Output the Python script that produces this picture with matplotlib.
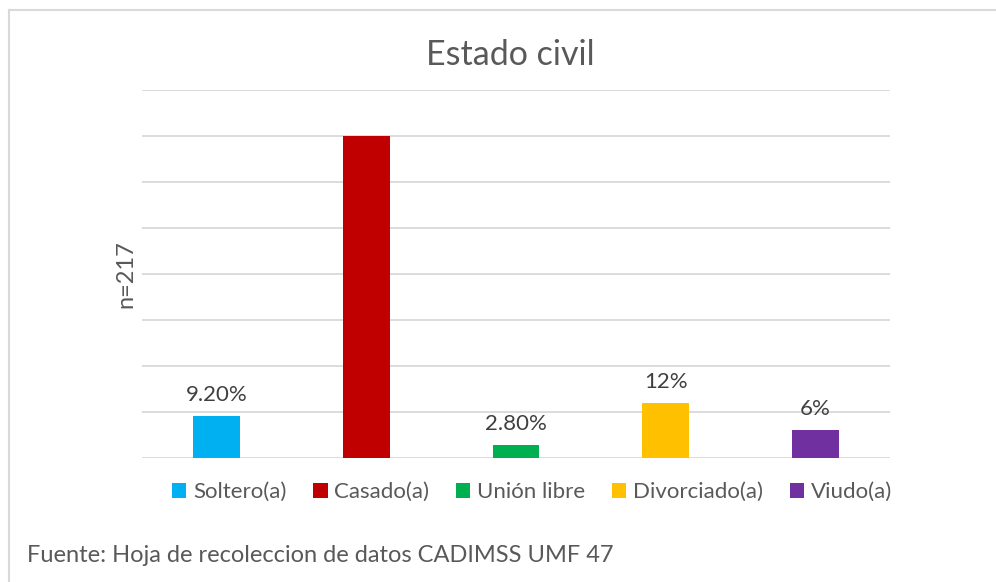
import matplotlib.pyplot as plt
from matplotlib.patches import Patch
from matplotlib.lines import Line2D

# --- data ---
categories = ["Soltero(a)", "Casado(a)", "Unión libre", "Divorciado(a)", "Viudo(a)"]
values = [9.2, 70, 2.8, 12, 6]
value_labels = ["9.20%", "", "2.80%", "12%", "6%"]
colors = ["#00B0F0", "#C00000", "#00B050", "#FFC000", "#7030A0"]

plt.rcParams['font.family'] = ['Lato', 'DejaVu Sans']

fig = plt.figure(figsize=(9.96, 5.82), dpi=100)
ax = fig.add_axes([142 / 996, 1 - 458 / 582, 748 / 996, 368 / 582])

x = list(range(len(categories)))
bars = ax.bar(x, values, width=0.314, color=colors, zorder=3)

for b, lab in zip(bars, value_labels):
    if lab:
        ax.annotate(lab, (b.get_x() + b.get_width() / 2, b.get_height()),
                    xytext=(0, 8), textcoords='offset points',
                    ha='center', va='bottom', fontsize=16, color='#404040')

ax.set_xlim(-0.5, len(categories) - 0.5)
ax.set_ylim(0, 80)
ax.set_yticks(range(0, 81, 10))
ax.yaxis.grid(True, color='#D9D9D9', linewidth=1.3, zorder=0)
ax.tick_params(left=False, bottom=False, labelleft=False, labelbottom=False)
for s in ax.spines.values():
    s.set_visible(False)

ax.set_ylabel("n=217", fontsize=17, color='#595959', labelpad=4)

fig.text(510 / 996, 1 - 55 / 582, "Estado civil", ha='center', va='center',
         fontsize=24.5, color='#595959')

handles = [Patch(facecolor=c, edgecolor='none') for c in colors]
fig.legend(handles, categories, loc='center', bbox_to_anchor=(532 / 996, 1 - 492 / 582),
           ncol=5, frameon=False, fontsize=16, handlelength=0.65, handleheight=0.65,
           handletextpad=0.3, columnspacing=1.2, labelcolor='#595959')

fig.text(27 / 996, 1 - 556 / 582, "Fuente: Hoja de recoleccion de datos CADIMSS UMF 47",
         ha='left', va='center', fontsize=17, color='#595959')

# outer frame (top and left edges visible)
fig.add_artist(Line2D([9 / 996, 1], [1 - 10 / 582, 1 - 10 / 582], color='#D9D9D9', linewidth=1.5))
fig.add_artist(Line2D([9 / 996, 9 / 996], [0, 1 - 10 / 582], color='#D9D9D9', linewidth=1.5))

fig.savefig("out.png", dpi=100, facecolor='white')
